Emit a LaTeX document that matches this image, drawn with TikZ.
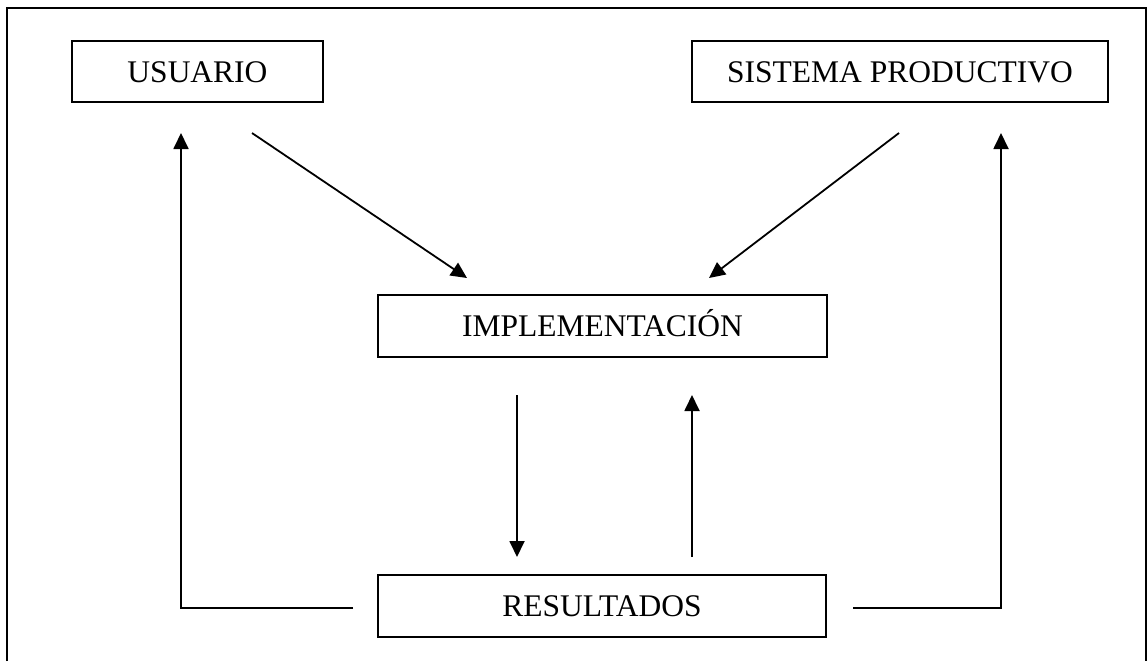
\documentclass[tikz,border=0pt]{standalone}
\usepackage{fontspec}
\setmainfont{Liberation Serif}
\usetikzlibrary{arrows.meta}
\begin{document}
\begin{tikzpicture}[x=1pt,y=-1pt,
  boxnode/.style={draw,line width=1.8pt,inner sep=0pt,
    font=\fontsize{31.5}{38}\selectfont,text height=21pt,text depth=0pt},
  conn/.style={line width=1.8pt},
  arr/.style={conn,-{Triangle[length=16pt,width=15pt]}}]
\useasboundingbox (0,0) rectangle (1148,661);
\draw[line width=1.5pt] (7,661) -- (7,8) -- (1146,8) -- (1146,661);
\node[boxnode,minimum width=251pt,minimum height=61pt] (usu) at (197.5,71.5) {USUARIO};
\node[boxnode,minimum width=416pt,minimum height=61pt] (sis) at (900,71.5) {SISTEMA PRODUCTIVO};
\node[boxnode,minimum width=449pt,minimum height=62pt] (imp) at (602.5,326) {IMPLEMENTACIÓN};
\node[boxnode,minimum width=448pt,minimum height=62pt] (res) at (602,606) {RESULTADOS};
\coordinate (u1) at (252,133);
\coordinate (u2) at (467,278);
\coordinate (s1) at (899,133);
\coordinate (s2) at (709,278);
\coordinate (d1) at (517,395);
\coordinate (d2) at (517,557);
\coordinate (e1) at (692,557);
\coordinate (e2) at (692,395);
\coordinate (l1) at (353,608);
\coordinate (l2) at (181,608);
\coordinate (l3) at (181,133);
\coordinate (r1) at (853,608);
\coordinate (r2) at (1001,608);
\coordinate (r3) at (1001,133);
\draw[arr] (u1) -- (u2);
\draw[arr] (s1) -- (s2);
\draw[arr] (d1) -- (d2);
\draw[arr] (e1) -- (e2);
\draw[arr] (l1) -- (l2) -- (l3);
\draw[arr] (r1) -- (r2) -- (r3);
\end{tikzpicture}
\end{document}
